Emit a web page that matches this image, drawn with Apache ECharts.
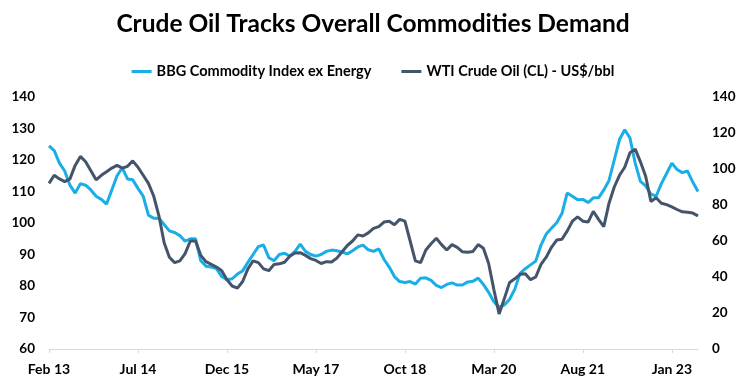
<!DOCTYPE html>
<html>
<head>
<meta charset="utf-8">
<script src="https://cdn.jsdelivr.net/npm/echarts@6/dist/echarts.min.js"></script>
<style>
html,body{margin:0;padding:0;background:#fff;}
#chart{width:746px;height:388px;}
</style>
</head>
<body>
<div id="chart"></div>
<script>
// Monthly observations from Feb 2013
var startYear = 2013, startMonth = 2;
var monthNames = ['Jan','Feb','Mar','Apr','May','Jun','Jul','Aug','Sep','Oct','Nov','Dec'];
var labelEvery = 17;

var bbgExEnergy = [
  124.5,123,119,116.5,112,109.5,112.5,112,110.5,108.5,
  107.5,106,110.5,115,117.5,114,113.7,111,108.5,102.5,
  101.5,101.5,99.5,97.5,97,96,94.2,95,95,88,
  86.3,86,85.5,83,82,82.3,83.8,84.8,87.5,90,
  92.5,93,89,88,90,90.4,89.5,91,93.3,91,
  90,89.5,90,91,91.4,91.2,90.8,90.2,91.2,92.4,
  93,91.5,91,91.8,88.5,86,83,81.4,81.1,81.4,
  80.6,82.5,82.6,81.8,80.2,79.5,80.5,81,80.3,80.3,
  81.3,81.5,82.5,80.5,78,75,73.2,74,75.8,79,
  84,85.5,86.7,87.9,93,96.5,98.3,100.1,103,109.5,
  108.5,107.4,107.5,106.5,108,108,110.5,113.5,120,126.5,
  129.6,127,119,113.2,111.8,109.2,108.5,112.5,115.7,119,
  117,116,116.5,113,110
];

var wtiCrude = [
  92,96.5,94.5,93,94.5,102,107,104,99,94,
  96.5,98.5,100.5,102,100.5,101.5,104.5,101,96.5,92,
  85,74,59,51,48,49,53,60,60,52,
  48.5,47,45.5,43.5,38.5,35,33.8,37.5,44.5,49,
  48,44.5,43.5,47,47.3,48.2,51.5,53.3,53.5,52,
  50.2,49.2,47.5,48.5,48.3,50.5,54,57.5,60,63.4,
  62.8,64.5,67,68,70.5,71,69,72,71,60,
  49,48,55,58.5,61.5,58,55,58,56.5,54,
  53.8,54.2,58,56,47.5,33,19.5,28,37,39,
  41.5,41.8,38.5,40,47,51,56.5,60.5,61,65.5,
  71,73.4,71,70.5,76.5,72,68,81,90,96.5,
  101,109,111,104,96,82,84,81,80.2,79,
  77.5,76.2,76,75.5,74
];

var categories = [];
for (var i = 0; i < bbgExEnergy.length; i++) {
  var m = (startMonth - 1 + i) % 12;
  var y = startYear + Math.floor((startMonth - 1 + i) / 12);
  categories.push(monthNames[m] + ' ' + String(y).slice(2));
}

var leftTicks = {min: 60, max: 140, interval: 10};
var rightTicks = {min: 0, max: 140, interval: 20};

var FONT = 'Lato, "Liberation Sans", sans-serif';
var showEvery = function (idx) { return idx % labelEvery === 0; };
var chart = echarts.init(document.getElementById('chart'), null, {renderer: 'canvas'});
chart.setOption({
  backgroundColor: '#ffffff',
  animation: false,
  title: {
    text: 'Crude Oil Tracks Overall Commodities Demand',
    left: 'center',
    top: 7,
    textStyle: {fontFamily: FONT, fontWeight: 'bold', fontSize: 24.5, color: '#000'}
  },
  legend: {
    top: 59,
    left: 'center',
    itemGap: 30,
    itemWidth: 20,
    itemHeight: 3,
    icon: 'rect',
    textStyle: {fontFamily: FONT, fontWeight: 'bold', fontSize: 14.5, color: '#000'},
    data: ['BBG Commodity Index ex Energy', 'WTI Crude Oil (CL) - US$/bbl']
  },
  grid: {left: 49, right: 48, top: 97, bottom: 39, containLabel: false},
  xAxis: {
    type: 'category',
    data: categories,
    boundaryGap: false,
    axisLine: {lineStyle: {color: '#d9d9d9', width: 1}},
    axisTick: {show: true, interval: showEvery, length: 4, lineStyle: {color: '#d9d9d9'}},
    axisLabel: {
      interval: showEvery, margin: 13, hideOverlap: false,
      fontFamily: FONT, fontWeight: 'bold', fontSize: 14, color: '#000'
    },
    splitLine: {show: false}
  },
  yAxis: [
    {
      type: 'value', position: 'left',
      min: leftTicks.min, max: leftTicks.max, interval: leftTicks.interval,
      axisLine: {show: false}, axisTick: {show: false}, splitLine: {show: false},
      axisLabel: {margin: 14, fontFamily: FONT, fontWeight: 'bold', fontSize: 13.5, color: '#000'}
    },
    {
      type: 'value', position: 'right',
      min: rightTicks.min, max: rightTicks.max, interval: rightTicks.interval,
      axisLine: {show: false}, axisTick: {show: false}, splitLine: {show: false},
      axisLabel: {margin: 14, fontFamily: FONT, fontWeight: 'bold', fontSize: 13.5, color: '#000'}
    }
  ],
  series: [
    {
      name: 'BBG Commodity Index ex Energy',
      type: 'line', yAxisIndex: 0, data: bbgExEnergy,
      showSymbol: false, symbol: 'none',
      lineStyle: {color: '#1AAEE8', width: 3},
      itemStyle: {color: '#1AAEE8'},
      z: 2
    },
    {
      name: 'WTI Crude Oil (CL) - US$/bbl',
      type: 'line', yAxisIndex: 1, data: wtiCrude,
      showSymbol: false, symbol: 'none',
      lineStyle: {color: '#44546A', width: 3},
      itemStyle: {color: '#44546A'},
      z: 3
    }
  ]
});
</script>
</body>
</html>
